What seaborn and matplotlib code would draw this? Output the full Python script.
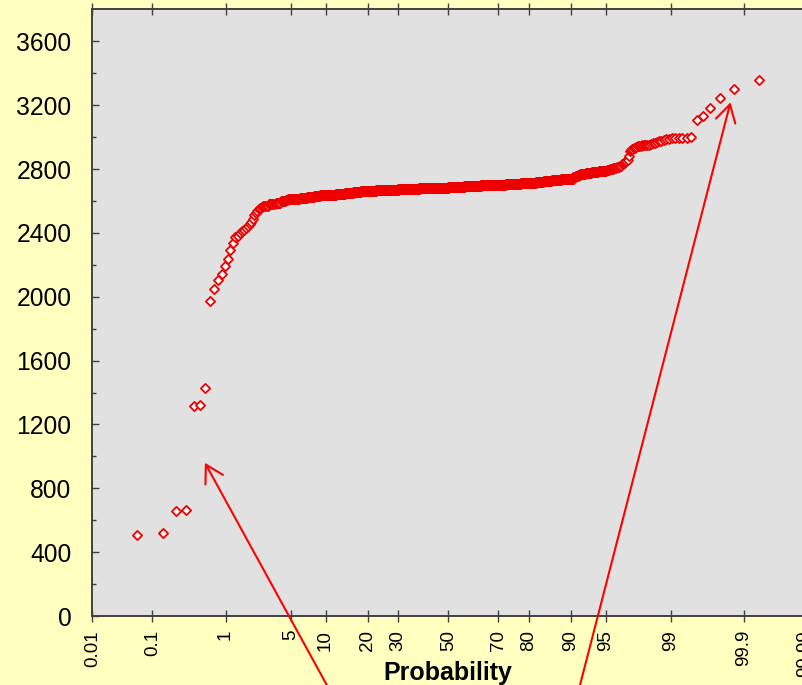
import numpy as np
import pandas as pd
import matplotlib
matplotlib.use("Agg")
import matplotlib.pyplot as plt
import seaborn as sns
from statistics import NormalDist

# Lowest observations, one value each
low_tail = [510, 519, 657, 665, 1317, 1323, 1428, 1976, 2049, 2103, 2145,
            2191, 2237, 2296, 2338, 2375, 2383,
            2400, 2412, 2421, 2432, 2445, 2456, 2469, 2490, 2515, 2527,
            2540, 2550, 2557, 2565]

# Bulk of the sample: value levels and number of observations at each level
band_levels = [2570, 2580, 2590, 2600,
               2605, 2610,
               2615, 2620, 2625, 2630, 2635,
               2640, 2645, 2650, 2655, 2660,
               2663, 2666, 2669, 2672,
               2675, 2678, 2680, 2682, 2684,
               2687, 2690, 2693, 2696, 2698, 2700,
               2703, 2706, 2709, 2712,
               2716, 2721, 2726, 2731, 2735,
               2740, 2748, 2756, 2764,
               2770, 2777, 2784, 2791,
               2797, 2803, 2809, 2815,
               2822, 2829]
band_counts = [5, 6, 6, 5,
               3, 4,
               12, 12, 12, 12, 12,
               24, 24, 24, 24, 24,
               30, 30, 30, 30,
               48, 48, 48, 48, 48,
               40, 40, 40, 40, 40, 40,
               30, 30, 30, 30,
               24, 24, 24, 24, 24,
               5, 5, 5, 4,
               10, 10, 11, 11,
               4, 4, 4, 3,
               2, 2]

# Highest observations, one value each
high_tail = [2838, 2846, 2853, 2860, 2885, 2912, 2920, 2926, 2930, 2935,
             2940, 2942, 2944, 2946, 2948, 2950, 2952, 2953, 2954, 2958,
             2962, 2966, 2970, 2974, 2978, 2982, 2986, 2990, 2992, 2993,
             2994, 2995, 2996, 3002, 3109, 3132, 3182, 3245, 3303, 3360]

prob_ticks = [0.01, 0.1, 1, 5, 10, 20, 30, 50, 70, 80, 90, 95, 99, 99.9, 99.99]
prob_labels = ["0.01", "0.1", "1", "5", "10", "20", "30", "50", "70", "80",
               "90", "95", "99", "99.9", "99.99"]
y_major = [0, 400, 800, 1200, 1600, 2000, 2400, 2800, 3200, 3600]
y_minor = [200, 600, 1000, 1400, 1800, 2200, 2600, 3000, 3400]

# Arrow tips (probability %, value)
arrow_tips = [(0.55, 960), (99.84, 3218)]
# Arrow tails in figure pixels
arrow_tails = [(346, -35), (571, -35)]

nd = NormalDist()

values = np.sort(np.concatenate([np.array(low_tail, float),
                                 np.repeat(band_levels, band_counts).astype(float),
                                 np.array(high_tail, float)]))
n = len(values)
ranks = np.arange(1, n + 1)
median_rank = (ranks - 0.3) / (n + 0.4)
zscore = np.array([nd.inv_cdf(p) for p in median_rank])
df = pd.DataFrame({"z": zscore, "value": values})

sns.set_style("white")
plt.rcParams["font.family"] = ["Liberation Sans", "DejaVu Sans"]
plt.rcParams["text.color"] = "black"
plt.rcParams["xtick.color"] = "black"
plt.rcParams["ytick.color"] = "black"
plt.rcParams["axes.labelcolor"] = "black"

fig = plt.figure(figsize=(8.02, 6.85), dpi=100, facecolor="#ffffc0")
W, H = 802, 685
ax = fig.add_axes([92.3 / W, 1 - 616 / H, 712 / W, (616 - 9.5) / H])
ax.set_facecolor("#e1e1e1")

sns.scatterplot(data=df, x="z", y="value", ax=ax, marker="D", s=22,
                facecolor="white", edgecolor="#ee0000", linewidth=1.3,
                legend=False, zorder=3)

zmin = nd.inv_cdf(0.0001)
ax.set_xlim(zmin, -zmin)
ax.set_ylim(0, 3800)

ax.set_xticks([nd.inv_cdf(p / 100) for p in prob_ticks])
ax.set_xticklabels(prob_labels, rotation=90, fontsize=13.5)
ax.set_yticks(y_major)
ax.set_yticklabels([str(v) for v in y_major], fontsize=17.7)
ax.set_yticks(y_minor, minor=True)

for side in ["left", "bottom", "top"]:
    ax.spines[side].set_color("#404040")
    ax.spines[side].set_linewidth(1.4)
ax.spines["right"].set_visible(False)

ax.tick_params(axis="y", which="major", direction="in", length=5, width=1,
               color="#404040", labelcolor="black", pad=15,
               left=True, right=False)
ax.tick_params(axis="y", which="minor", direction="in", length=3, width=1,
               color="#404040", left=True, right=False)
ax.tick_params(axis="x", which="major", direction="inout", length=8, width=1,
               color="#404040", labelcolor="black", pad=6,
               top=True, bottom=True, labeltop=False)
ax.set_xlabel("Probability", fontsize=18, fontweight="bold", color="black")
ax.xaxis.set_label_coords(0.5, -0.075)
ax.xaxis.label.set_va("top")
ax.set_ylabel("")

for (pt, val), (tx, ty) in zip(arrow_tips, arrow_tails):
    ax.annotate("", xy=(nd.inv_cdf(pt / 100), val), xycoords="data",
                xytext=(tx, ty), textcoords="figure pixels",
                annotation_clip=False,
                arrowprops=dict(arrowstyle="->,head_length=0.62,head_width=0.36",
                                mutation_scale=20, color="red", lw=1.5,
                                shrinkA=0, shrinkB=0))

fig.savefig("out.png", dpi=100, facecolor=fig.get_facecolor())
